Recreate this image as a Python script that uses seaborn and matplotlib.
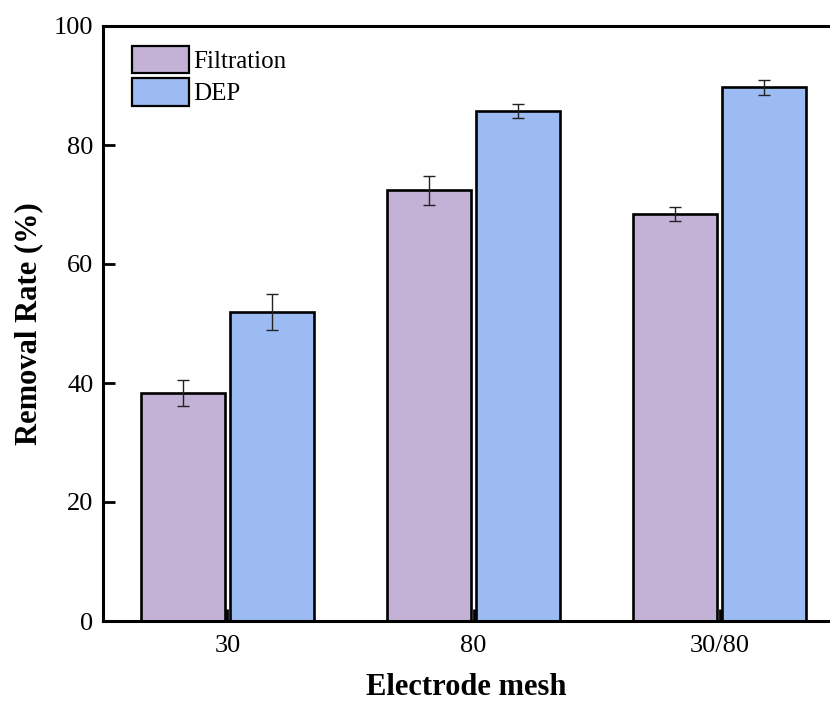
import numpy as np
import pandas as pd
import matplotlib
matplotlib.use("Agg")
import matplotlib.pyplot as plt
import seaborn as sns

# data
meshes = ["30", "80", "30/80"]
methods = ["Filtration", "DEP"]
filtration = [38.3, 72.4, 68.4]
dep = [51.9, 85.7, 89.7]
filtration_err = [2.2, 2.4, 1.2]
dep_err = [3.0, 1.2, 1.3]

colors = {"Filtration": "#C3B2D6", "DEP": "#9CBBF2"}

df = pd.DataFrame({
    "mesh": meshes * 2,
    "method": ["Filtration"] * 3 + ["DEP"] * 3,
    "rate": filtration + dep,
    "err": filtration_err + dep_err,
})

sns.set_style("ticks")
plt.rcParams["font.family"] = ["Liberation Serif", "DejaVu Serif"]
plt.rcParams["xtick.direction"] = "in"
plt.rcParams["ytick.direction"] = "in"
plt.rcParams["text.color"] = "black"
plt.rcParams["axes.labelcolor"] = "black"
plt.rcParams["xtick.color"] = "black"
plt.rcParams["ytick.color"] = "black"
plt.rcParams["axes.edgecolor"] = "black"

fig = plt.figure(figsize=(8.3, 7.03), dpi=100)
ax = fig.add_axes([103 / 830, 1 - 621 / 703, 1 - 103 / 830, 595 / 703])

sns.barplot(data=df, x="mesh", y="rate", hue="method", hue_order=methods,
            palette=colors, saturation=1, width=0.724, gap=0.058,
            edgecolor="black", linewidth=1.9, errorbar=None, ax=ax)

# error bars at the bar centres
for cont, method in zip(ax.containers, methods):
    sub = df[df["method"] == method]
    xs = [p.get_x() + p.get_width() / 2 for p in cont.patches]
    ax.errorbar(xs, sub["rate"], yerr=sub["err"], fmt="none",
                ecolor="#222222", elinewidth=1.0, capsize=4.3, capthick=1.0)

ax.set_xlim(-0.506, 2.449)
ax.set_ylim(0, 100)
ax.set_yticks([0, 20, 40, 60, 80, 100])
ax.spines["right"].set_visible(False)
for s in ["left", "top", "bottom"]:
    ax.spines[s].set_linewidth(2.2)
ax.tick_params(axis="both", labelsize=19, width=2.0, length=8.5)
ax.tick_params(axis="x", pad=10)
ax.tick_params(axis="y", pad=7)

ax.set_xlabel("Electrode mesh", fontsize=22, fontweight="bold")
ax.set_ylabel("Removal Rate (%)", fontsize=22, fontweight="bold")
ax.xaxis.set_label_coords(0.5, -0.088)
ax.yaxis.set_label_coords(-0.082, 0.5)

leg = ax.legend(loc="upper left", fontsize=18, frameon=False,
                handlelength=2.28, handleheight=1.3, handletextpad=0.15,
                borderpad=0, borderaxespad=0, labelspacing=0.22,
                bbox_to_anchor=(0.04, 0.967))
for h in leg.legend_handles:
    h.set_edgecolor("black")
    h.set_linewidth(1.6)

fig.savefig("out.png", dpi=100)
